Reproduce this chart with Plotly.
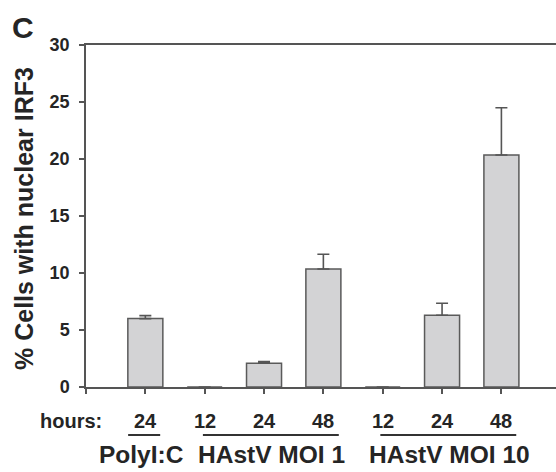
import plotly.graph_objects as go

# ---- data ----
positions = [1, 2, 3, 4, 5, 6, 7]
hour_labels = ["24", "12", "24", "48", "12", "24", "48"]
values = [6.0, 0, 2.08, 10.35, 0, 6.3, 20.35]
errors = [0.26, None, 0.15, 1.3, None, 1.05, 4.15]
group_labels = ["PolyI:C", "HAstV MOI 1", "HAstV MOI 10"]
group_centers = [0.94, 3.13, 6.13]
group_spans = [(0.71, 1.25), (1.97, 4.26), (4.96, 7.25)]
y_ticks = [0, 5, 10, 15, 20, 25, 30]

FONT = "Liberation Sans, Arial, sans-serif"
AX = "#555555"
TXT = "#252525"

fig = go.Figure()
fig.add_trace(go.Bar(
    x=positions, y=values, width=0.59,
    marker=dict(color="#d3d3d5", line=dict(color="#5a5a5a", width=1.5)),
    error_y=dict(type="data", array=errors, arrayminus=[0] * len(errors),
                 symmetric=False, color=AX, thickness=1.6, width=6),
    hoverinfo="skip",
))

W, H = 556, 472
L, R, T, B = 86, 0, 45, 85

fig.update_layout(
    width=W, height=H,
    margin=dict(l=L, r=R, t=T, b=B, pad=0),
    paper_bgcolor="white", plot_bgcolor="white",
    showlegend=False,
    font=dict(family=FONT, color=TXT),
    xaxis=dict(range=[0, 7.92], tickvals=[0] + positions, ticktext=[""] * 8,
               ticks="outside", ticklen=5, tickwidth=1.5, tickcolor=AX,
               showline=True, linecolor=AX, linewidth=1.5, mirror=True,
               showgrid=False, zeroline=False, fixedrange=True),
    yaxis=dict(range=[0, 30], tickvals=y_ticks,
               ticks="outside", ticklen=5, tickwidth=1.5, tickcolor=AX,
               tickfont=dict(size=18, family=FONT, color=TXT, weight="bold"),
               ticklabelstandoff=6,
               showline=True, linecolor=AX, linewidth=1.5,
               showgrid=False, zeroline=False, fixedrange=True),
)

plot_h = H - T - B
plot_w = W - L - R

def py(pix):
    return (H - B - pix) / plot_h

def px(pix):
    return (pix - L) / plot_w

ann = []
ann.append(dict(text="<b>C</b>", x=px(23), y=py(27), xref="paper", yref="paper",
                xanchor="center", yanchor="middle", showarrow=False,
                font=dict(size=30, family=FONT, color=TXT)))
ann.append(dict(text="<b>% Cells with nuclear IRF3</b>", x=px(24), y=py(219),
                xref="paper", yref="paper", textangle=-90,
                xanchor="center", yanchor="middle", showarrow=False,
                font=dict(size=25, family=FONT, color=TXT)))
ann.append(dict(text="<b>hours:</b>", x=px(104), y=py(421), xref="paper", yref="paper",
                xanchor="right", yanchor="middle", showarrow=False,
                font=dict(size=20, family=FONT, color=TXT)))
for xv, lab in zip(positions, hour_labels):
    ann.append(dict(text="<b>%s</b>" % lab, x=xv, y=py(421), xref="x", yref="paper",
                    xanchor="center", yanchor="middle", showarrow=False,
                    font=dict(size=20, family=FONT, color=TXT)))
for xc, lab in zip(group_centers, group_labels):
    ann.append(dict(text="<b>%s</b>" % lab, x=xc, y=py(455), xref="x", yref="paper",
                    xanchor="center", yanchor="middle", showarrow=False,
                    font=dict(size=24.5, family=FONT, color=TXT)))
fig.update_layout(annotations=ann)

for x0, x1 in group_spans:
    fig.add_shape(type="line", xref="x", yref="paper", x0=x0, x1=x1,
                  y0=py(435), y1=py(435), line=dict(color="#333333", width=2))

fig.write_html("out.html", config={"displayModeBar": False},
               post_script="document.body.style.margin='0';document.body.style.overflow='hidden';")
